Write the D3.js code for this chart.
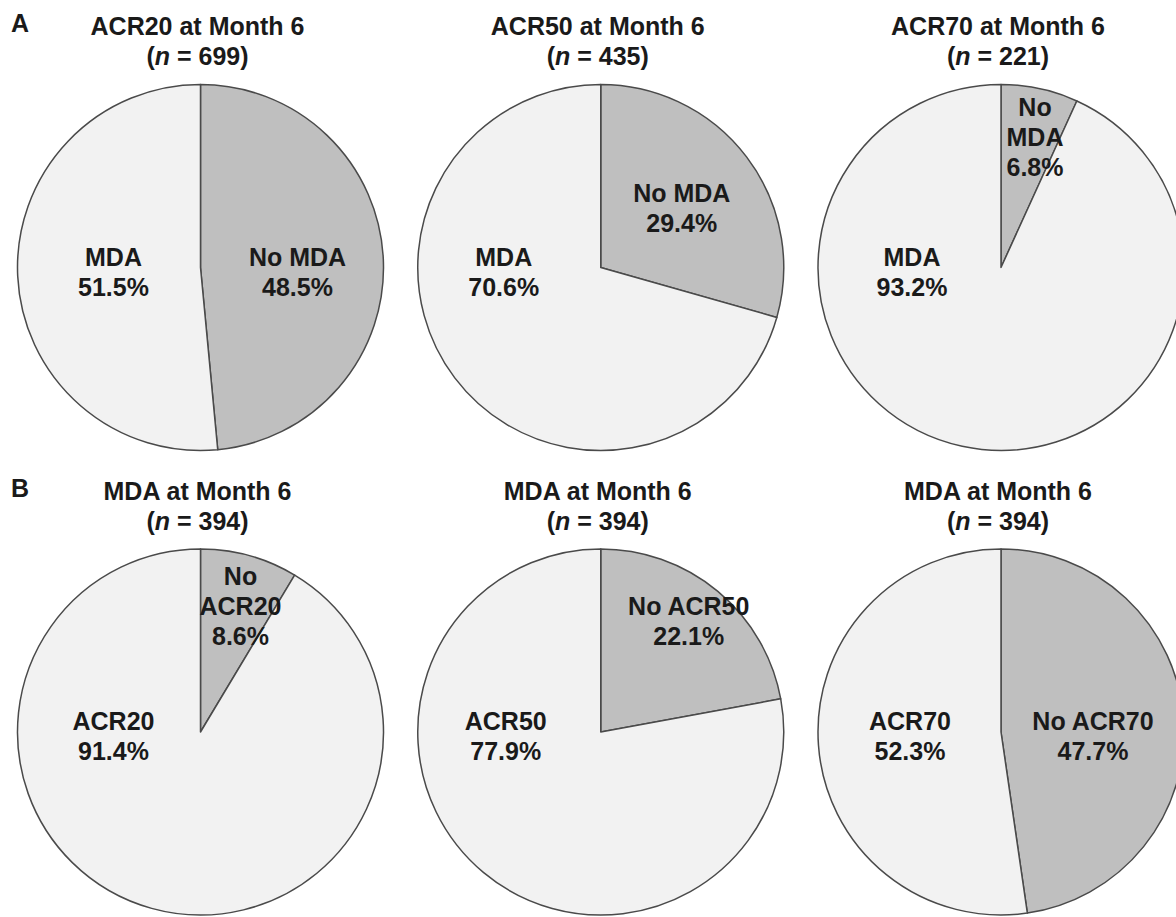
<!DOCTYPE html>
<html>
<head>
<meta charset="utf-8">
<script src="https://cdn.jsdelivr.net/npm/d3@7"></script>
<style>
  html, body { margin: 0; padding: 0; background: #fff; }
  svg { display: block; }
  text { font-family: "Liberation Sans", Arial, sans-serif; font-weight: bold; fill: #1a1a1a; }
</style>
</head>
<body>
<div id="chart"></div>
<script>
// values
const panelLetters = ['A', 'B'];
const titles = ['ACR20 at Month 6', 'ACR50 at Month 6', 'ACR70 at Month 6',
                'MDA at Month 6', 'MDA at Month 6', 'MDA at Month 6'];
const nValues = [699, 435, 221, 394, 394, 394];
const negLabels = ['No MDA', 'No MDA', 'No MDA', 'No ACR20', 'No ACR50', 'No ACR70'];
const posLabels = ['MDA', 'MDA', 'MDA', 'ACR20', 'ACR50', 'ACR70'];
const negPct = [48.5, 29.4, 6.8, 8.6, 22.1, 47.7];
const posPct = [51.5, 70.6, 93.2, 91.4, 77.9, 52.3];

// where the data labels sit, relative to the pie centre (first baseline)
const negLabelPos = [[97, -2], [81, -66], [34, -152], [40, -147], [88, -117], [92, -2]];
const posLabelPos = [[-87, -2], [-97, -2], [-89, -2], [-87, -2], [-95, -2], [-91, -2]];
const negWrap = [false, false, true, true, false, false];

const width = 1176, height = 917;
const radius = 183;
const lineH = 30;

const x = d3.scaleLinear().domain([0, 2]).range([200.5, 1001]);
const y = d3.scaleLinear().domain([0, 1]).range([267.5, 732]);

const svg = d3.select('#chart').append('svg')
  .attr('width', width)
  .attr('height', height);

const pie = d3.pie().sort(null).value(d => d.value);
const arc = d3.arc().innerRadius(0).outerRadius(radius);

titles.forEach((title, i) => {
  const col = i % 3, row = Math.floor(i / 3);
  const cx = x(col), cy = y(row);
  const g = svg.append('g').attr('transform', `translate(${cx},${cy})`);

  const slices = pie([
    {key: 'neg', value: negPct[i]},
    {key: 'pos', value: posPct[i]}
  ]);

  g.selectAll('path')
    .data(slices)
    .join('path')
    .attr('d', arc)
    .attr('fill', d => d.data.key === 'neg' ? '#bfbfbf' : '#f2f2f2')
    .attr('stroke', '#4a4a4a')
    .attr('stroke-width', 1.5)
    .attr('stroke-linejoin', 'round');

  // title
  const t = g.append('text')
    .attr('text-anchor', 'middle')
    .style('font-size', '25px');
  t.append('tspan').attr('x', -3).attr('y', -232.5).text(title);
  const t2 = t.append('tspan').attr('x', -3).attr('y', -202.5);
  t2.append('tspan').text('(');
  t2.append('tspan').style('font-style', 'italic').text('n');
  t2.append('tspan').text(' = ' + nValues[i] + ')');

  // data labels
  const negLines = negWrap[i]
    ? negLabels[i].split(' ').concat([negPct[i].toFixed(1) + '%'])
    : [negLabels[i], negPct[i].toFixed(1) + '%'];
  const posLines = [posLabels[i], posPct[i].toFixed(1) + '%'];

  [[negLines, negLabelPos[i]], [posLines, posLabelPos[i]]].forEach(([lines, pos]) => {
    const lt = g.append('text')
      .attr('text-anchor', 'middle')
      .style('font-size', '25px');
    lines.forEach((ln, k) => {
      lt.append('tspan')
        .attr('x', pos[0])
        .attr('y', pos[1] + k * lineH)
        .text(ln);
    });
  });

  // panel letter
  if (col === 0) {
    svg.append('text')
      .attr('x', 11)
      .attr('y', cy - 235.5)
      .style('font-size', '25px')
      .text(panelLetters[row]);
  }
});
</script>
</body>
</html>
